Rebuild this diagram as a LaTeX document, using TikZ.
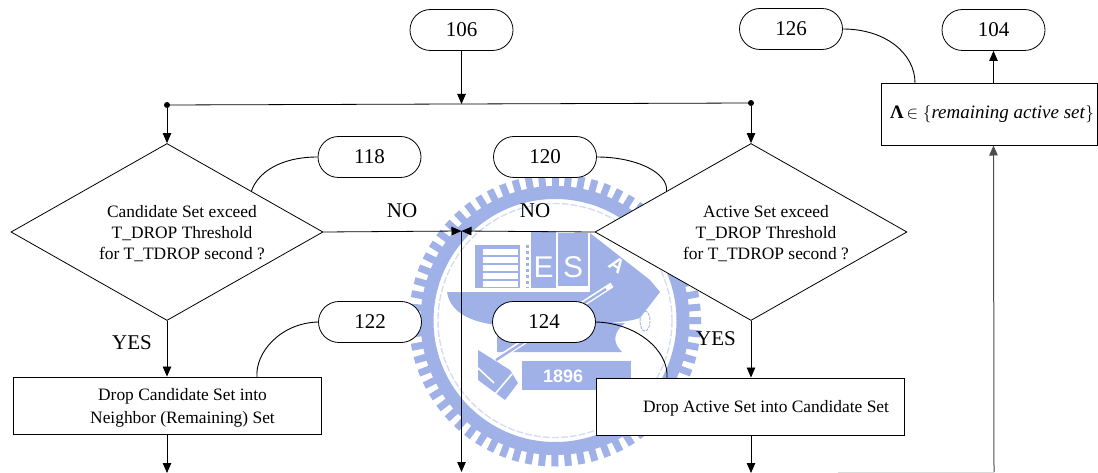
\documentclass[tikz,border=0pt]{standalone}
\usepackage{fontspec}
\setmainfont{Liberation Serif}
\newfontfamily\sealfont{Liberation Sans}
\usetikzlibrary{arrows.meta,shapes.geometric,shapes.misc,calc}
\definecolor{seal}{HTML}{A0B1E8}
\definecolor{sealpale}{HTML}{D5DDF5}
\tikzset{
  x=1pt,y=-1pt,
  pill/.style={draw,fill=white,rounded rectangle,minimum width=103pt,minimum height=41pt,inner sep=0pt,line width=.8pt,font=\fontsize{21}{23}\selectfont},
  dia/.style={draw,fill=white,diamond,aspect=1.76,minimum width=312pt,minimum height=177pt,inner sep=0pt,line width=.8pt,font=\fontsize{17.4}{21}\selectfont},
  procbox/.style={draw,fill=white,inner sep=0pt,line width=.9pt,align=center,font=\fontsize{17.4}{23}\selectfont},
  lab/.style={inner sep=0pt,font=\fontsize{21}{23}\selectfont},
  flow/.style={line width=.8pt,draw=black,-{Triangle[length=10pt,width=8.5pt]}},
  plain/.style={line width=.8pt,draw=black},
  leader/.style={line width=.9pt},
  dot/.style={circle,fill=black,inner sep=0pt,minimum size=6pt},
  sealmark/.style={text=white,inner sep=0pt}
}
\begin{document}
\begin{tikzpicture}
\useasboundingbox (0,0) rectangle (1098,473);
% background seal
\begin{scope}
  \foreach \a in {0,5.294,...,359}{
    \fill[seal,rotate around={\a:(555,320.5)}] (551.5,174.5) rectangle (558.5,190);
  }
  \draw[seal,line width=13pt] (555,320.5) circle[radius=128];
  \draw[sealpale,line width=1.4pt,dash pattern=on 7pt off 2pt] (555,320.5) circle[radius=117];
  \fill[seal] (475,245) rectangle (520,288);
  \foreach \yy in {249,257,265,273,281}{\fill[white] (483,\yy) rectangle (518,\yy+6);}
  \draw[seal,line width=3pt,dash pattern=on 3pt off 3pt] (527,245) -- (527,288);
  \fill[seal] (531,231) rectangle (556,288);
  \fill[seal] (558,233) rectangle (588,286);
  \fill[seal] (590,233) -- (650,280) -- (660,292) -- (590,292) -- cycle;
  \fill[seal] (447,292) -- (660,292) -- (640,318) .. controls (620,325) and (560,326) .. (497,325)
     .. controls (470,322) and (450,312) .. cycle;
  \fill[seal] (497,323) -- (625,323) .. controls (610,335) and (615,345) .. (622,352) -- (497,352) -- cycle;
  \draw[white,line width=5.5pt] (612,285) -- (494,361);
  \draw[seal,line width=2.4pt] (606,289) -- (496,360);
  \fill[seal] (522,361) rectangle (631,390);
  \fill[seal] (478,350) -- (510,370) -- (518,383) -- (505,400) -- (478,380) -- cycle;
  \draw[white,line width=1.6pt] (478,368) -- (494,383) (495,394) -- (512,374);
  \draw[seal,line width=.9pt,dash pattern=on 3pt off 1pt] (645,321) ellipse[x radius=5,y radius=10];
  \node[sealmark,font=\sealfont\fontsize{30}{30}\selectfont] (sealE) at (543.5,267) {E};
  \node[sealmark,font=\sealfont\fontsize{30}{30}\selectfont] (sealS) at (573,267) {S};
  \node[sealmark,rotate=-35,font=\sealfont\bfseries\fontsize{20}{20}\selectfont] (sealA) at (617,265) {A};
  \node[sealmark,font=\sealfont\bfseries\fontsize{18}{18}\selectfont,anchor=west] (sealY) at (543,376) {1896};
\end{scope}
% pills
\node[pill] (p106) at (461.5,30) {106};
\node[pill] (p118) at (369.5,157) {118};
\node[pill] (p120) at (545,157) {120};
\node[pill] (p122) at (370,322) {122};
\node[pill] (p124) at (544,322) {124};
\node[pill] (p126) at (791,29) {126};
\node[pill] (p104) at (993.5,30) {104};
% decisions
\node[dia] (d1) at (167,232) {\hspace*{30pt}\raisebox{-2pt}[\height][\depth]{\begin{tabular}{@{}c@{}}Candidate Set exceed\\T\_DROP Threshold\\for T\_TDROP second ?\end{tabular}}};
\node[dia] (d2) at (751,232) {\hspace*{30pt}\raisebox{-2pt}[\height][\depth]{\begin{tabular}{@{}c@{}}Active Set exceed\\T\_DROP Threshold\\for T\_TDROP second ?\end{tabular}}};
% boxes
\node[procbox,minimum width=308pt,minimum height=57pt] (b1) at (167,405.5) {\hspace*{31pt}\raisebox{-2pt}[\height][\depth]{\begin{tabular}{@{}c@{}}Drop Candidate Set into\\Neighbor (Remaining) Set\end{tabular}}};
\node[procbox,minimum width=308pt,minimum height=57pt] (b2) at (750,406.5) {\hspace*{32pt}\raisebox{-2pt}[\height][\depth]{Drop Active Set into Candidate Set}};
\node[procbox,minimum width=216pt,minimum height=62pt,font=\fontsize{19}{22}\selectfont] (b3) at (989,114) {\hspace*{6pt}\textbf{Λ}$\,\in\{$\textit{remaining active set}$\}$};
% labels
\node[lab] (no1) at (402,211) {NO};
\node[lab] (no2) at (535,211) {NO};
\node[lab] (yes1) at (132,343) {YES};
\node[lab] (yes2) at (716,339) {YES};
% junctions
\coordinate (j1) at (167,105);
\coordinate (j2) at (751,103);
\coordinate (jm) at (461.5,104);
\coordinate (jc) at (461.5,231);
\coordinate (e1) at (167,473);
\coordinate (e2) at (461.5,472);
\coordinate (e3) at (751,473);
\coordinate (e4) at (994,472);
\coordinate (s4) at (838,472);
% leader end points
\coordinate (c118) at ($(d1.north)!0.54!(d1.east)$);
\coordinate (c120) at ($(d2.north)!0.54!(d2.west)$);
\coordinate (c122) at (257,377);
\coordinate (c124) at (667,378);
\coordinate (c126) at (915,83);
% connectors
\draw[plain] (j1) -- (j2);
\node[dot] (n1) at (j1) {};
\node[dot] (n2) at (j2) {};
\draw[flow] (p106.south) -- (jm);
\draw[flow] (n1) -- (d1.north);
\draw[flow] (n2) -- (d2.north);
\draw[flow] (d1.east) -- (jc);
\draw[flow] (d2.west) -- (jc);
\draw[flow] (jc) -- (e2);
\draw[flow] (d1.south) -- (b1.north);
\draw[flow] (d2.south) -- (d2.south |- b2.north);
\draw[flow] (b1.south) -- (e1);
\draw[flow] (b2.south -| e3) -- (e3);
\draw[flow] (b3.north -| p104.south) -- (p104.south);
\draw[line width=.6pt,draw=black!15] (s4) -- (e4);
\draw[flow,draw=black!70,line width=1pt] (e4) -- (993.5,145.5);
\draw[leader] (p118.west) .. controls +(-38,0) and +(6,-18) .. (c118);
\draw[leader] (p120.east) .. controls +(40,0) and +(2,-18) .. (c120);
\draw[leader] (p122.west) .. controls +(-38,1) and +(-2,-24) .. (c122);
\draw[leader] (p124.east) .. controls +(40,1) and +(2,-28) .. (c124);
\draw[leader] (p126.east) .. controls +(42,0) and +(0,-30) .. (c126);
\end{tikzpicture}
\end{document}
